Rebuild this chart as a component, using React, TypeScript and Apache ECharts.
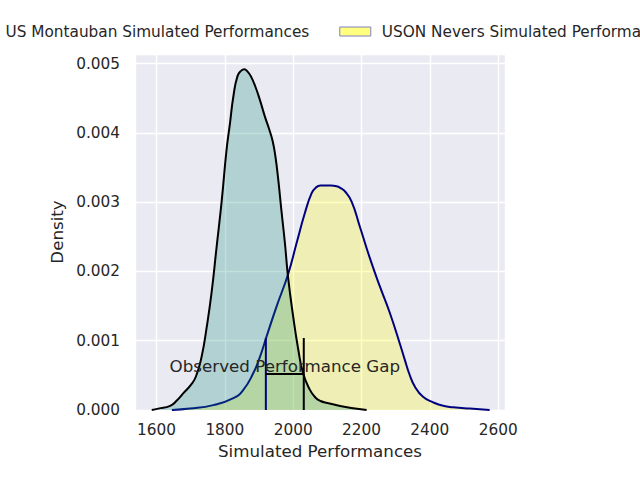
import React, { useEffect, useRef } from 'react';
import * as echarts from 'echarts';

const seriesNames = ['US Montauban Simulated Performances', 'USON Nevers Simulated Performances'];

const montaubanX = [1586, 1605, 1640, 1660, 1678, 1700, 1715, 1732, 1747, 1761, 1776, 1791, 1805, 1815, 1825, 1837, 1848, 1857, 1866, 1876, 1890, 1903, 1917, 1930, 1940, 1948, 1956, 1966, 1976, 1985, 2000, 2015, 2029, 2049, 2065, 2080, 2100, 2136, 2170, 2215];
const montaubanY = [0, 0.00002, 0.00006, 0.00014, 0.00024, 0.00036, 0.00048, 0.00077, 0.0012, 0.00169, 0.00236, 0.00303, 0.00376, 0.00414, 0.00453, 0.00482, 0.0049, 0.00492, 0.00489, 0.00482, 0.00466, 0.00447, 0.00424, 0.00405, 0.00388, 0.00366, 0.00334, 0.00286, 0.0024, 0.00192, 0.00135, 0.00087, 0.00053, 0.00029, 0.00018, 0.00013, 0.0001, 0.00006, 0.00003, 0];

const neversX = [1645, 1698, 1766, 1825, 1854, 1883, 1903, 1922, 1951, 1985, 2010, 2034, 2054, 2066, 2080, 2110, 2127, 2140, 2151, 2171, 2195, 2224, 2254, 2283, 2312, 2327, 2340, 2356, 2380, 2410, 2439, 2468, 2517, 2575];
const neversY = [0, 0.00002, 0.00007, 0.00017, 0.00029, 0.00053, 0.00077, 0.00106, 0.00149, 0.00196, 0.00241, 0.00284, 0.00313, 0.00321, 0.00324, 0.00324, 0.00323, 0.0032, 0.00316, 0.00301, 0.00265, 0.0022, 0.00178, 0.0014, 0.00096, 0.00072, 0.00052, 0.00034, 0.00019, 0.00011, 0.00006, 0.00004, 0.00002, 0];

const gapStart = 1920;
const gapEnd = 2031;
const gapTop = 0.00104;
const gapBarY = 0.00052;
const gapLabel = 'Observed Performance Gap';

const xRange = [1537, 2620];
const yRange = [0, 0.00514];

const zip = (xs: number[], ys: number[]) => xs.map((x, i) => [x, ys[i]]);

export default function App() {
  const ref = useRef<HTMLDivElement>(null);
  useEffect(() => {
    const chart = echarts.init(ref.current!, null, { renderer: 'svg' });
    const textColor = '#262626';
    const teal = 'rgba(8,135,115,0.25)';
    chart.setOption({
      animation: false,
      textStyle: { fontFamily: 'DejaVu Sans', color: textColor },
      grid: { left: 135, right: 135, top: 54, bottom: 70, show: true, backgroundColor: '#EAEAF2', borderWidth: 0 },
      legend: {
        left: -37,
        top: 24,
        width: 900,
        padding: 0,
        itemWidth: 31,
        itemHeight: 9,
        itemGap: 30,
        icon: 'rect',
        textStyle: { color: textColor, fontSize: 15.3, padding: [0, 0, 0, 6] },
        data: [
          { name: seriesNames[0], itemStyle: { color: teal, borderColor: '#000', borderWidth: 1 } },
          { name: seriesNames[1], itemStyle: { color: '#ffff80', borderColor: '#8080c0', borderWidth: 1 } },
        ],
      },
      xAxis: {
        type: 'value',
        min: xRange[0],
        max: xRange[1],
        splitNumber: 5,
        axisLine: { show: false },
        axisTick: { show: false },
        axisLabel: {
          color: textColor,
          fontSize: 15.3,
          margin: 12,
          formatter: (v: number) => (Math.abs(v % 200) < 1e-6 ? String(v) : ''),
        },
        splitLine: { show: true, lineStyle: { color: '#ffffff', width: 1.4 } },
        name: 'Simulated Performances',
        nameLocation: 'middle',
        nameGap: 32,
        nameTextStyle: { fontSize: 16.7, color: textColor },
      },
      yAxis: {
        type: 'value',
        min: yRange[0],
        max: yRange[1],
        interval: 0.001,
        axisLine: { show: false },
        axisTick: { show: false },
        axisLabel: {
          color: textColor,
          fontSize: 15.3,
          margin: 15,
          formatter: (v: number) => (v > 0.00505 ? '' : v.toFixed(3)),
        },
        splitLine: { show: true, lineStyle: { color: '#ffffff', width: 1.4 } },
        name: 'Density',
        nameLocation: 'middle',
        nameGap: 65,
        nameTextStyle: { fontSize: 16.7, color: textColor },
      },
      series: [
        {
          name: seriesNames[1],
          type: 'line',
          data: zip(neversX, neversY),
          smooth: 0.5,
          showSymbol: false,
          symbol: 'none',
          lineStyle: { color: '#000080', width: 2 },
          itemStyle: { color: '#ffff80' },
          areaStyle: { color: 'rgba(255,255,0,0.25)', opacity: 1 },
          z: 2,
        },
        {
          name: seriesNames[0],
          type: 'line',
          data: zip(montaubanX, montaubanY),
          smooth: 0.5,
          showSymbol: false,
          symbol: 'none',
          lineStyle: { color: '#000000', width: 2 },
          itemStyle: { color: teal },
          areaStyle: { color: teal, opacity: 1 },
          z: 3,
        },
        {
          name: 'gapStartLine',
          type: 'line',
          data: [[gapStart, 0], [gapStart, gapTop]],
          symbol: 'none',
          silent: true,
          lineStyle: { color: '#000080', width: 2 },
          z: 4,
        },
        {
          name: 'gapEndLine',
          type: 'line',
          data: [[gapEnd, 0], [gapEnd, gapTop]],
          symbol: 'none',
          silent: true,
          lineStyle: { color: '#000000', width: 2 },
          z: 4,
        },
        {
          name: 'gapBar',
          type: 'line',
          data: [[gapStart, gapBarY], [gapEnd, gapBarY]],
          symbol: 'none',
          silent: true,
          lineStyle: { color: '#000000', width: 2 },
          z: 4,
        },
        {
          name: 'gapText',
          type: 'scatter',
          data: [[(gapStart + gapEnd) / 2, gapBarY]],
          symbolSize: 0,
          silent: true,
          itemStyle: { color: textColor, opacity: 1 },
          label: {
            show: true,
            position: 'inside',
            offset: [0, -8],
            formatter: gapLabel,
            fontSize: 16.7,
            color: textColor,
            textBorderWidth: 0,
            opacity: 1,
            fontFamily: 'DejaVu Sans',
          },
          z: 5,
        },
      ],
    });
    return () => chart.dispose();
  }, []);
  return <div ref={ref} style={{ position: 'absolute', left: 0, top: 0, width: 640, height: 480 }} />;
}
